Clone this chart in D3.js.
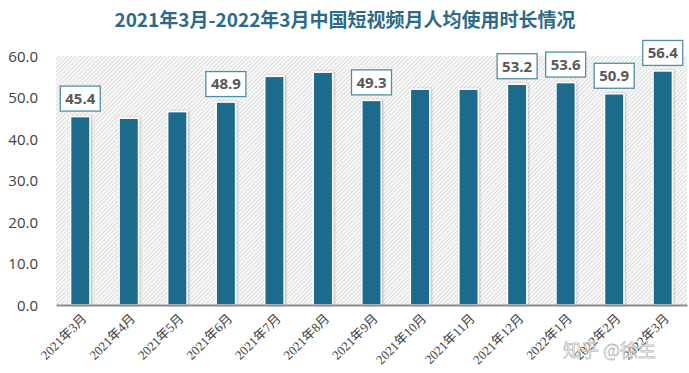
<!DOCTYPE html>
<html lang="zh">
<head>
<meta charset="UTF-8">
<title>短视频月人均使用时长</title>
<style>
    body { margin: 0; background: #fff; }
    .title { font-family: "Noto Sans CJK SC", sans-serif; font-weight: bold; fill: #2c6a88; }
    .ytick text { font-family: "Open Sans", "Noto Sans", sans-serif; font-size: 15px; fill: #404040; }
    .xtick text { font-family: "Liberation Serif", "Noto Sans CJK SC", serif; font-size: 13px; fill: #404040; }
    .lbl text { font-family: "Open Sans", sans-serif; font-weight: bold; font-size: 15px; fill: #595959; }
</style>
</head>
<body>
<script src="https://d3js.org/d3.v7.min.js"></script>
<script>
// data
const months = ["2021年3月", "2021年4月", "2021年5月", "2021年6月", "2021年7月", "2021年8月", "2021年9月",
    "2021年10月", "2021年11月", "2021年12月", "2022年1月", "2022年2月", "2022年3月"];
const hours = [45.4, 45.0, 46.6, 48.9, 55.1, 56.1, 49.3, 52.0, 52.0, 53.2, 53.6, 50.9, 56.4];
const labelled = [true, false, false, true, false, false, true, false, false, true, true, true, true];
const yTicks = [0, 10, 20, 30, 40, 50, 60];

const width = 689, height = 373;
const plot = { left: 56, right: 687, top: 56, bottom: 305 };

const svg = d3.select("body").append("svg")
    .attr("width", width)
    .attr("height", height);

// hatched plot background
const defs = svg.append("defs");
const pat = defs.append("pattern")
    .attr("id", "hatch")
    .attr("patternUnits", "userSpaceOnUse")
    .attr("width", 3).attr("height", 3)
    .attr("patternTransform", "rotate(45)");
pat.append("rect").attr("width", 3).attr("height", 3).attr("fill", "#f8f8f8");
pat.append("line").attr("x1", 0).attr("y1", 0).attr("x2", 0).attr("y2", 3)
    .attr("stroke", "#cdcdcd").attr("stroke-width", 1.2);

const shadow = defs.append("filter").attr("id", "shadow")
    .attr("x", "-30%").attr("y", "-10%").attr("width", "160%").attr("height", "120%");
shadow.append("feDropShadow").attr("dx", 1).attr("dy", 0).attr("stdDeviation", 1.2)
    .attr("flood-color", "#000").attr("flood-opacity", 0.25);

svg.append("rect")
    .attr("x", plot.left).attr("y", plot.top)
    .attr("width", plot.right - plot.left).attr("height", plot.bottom - plot.top)
    .attr("fill", "url(#hatch)");

const x = d3.scaleBand()
    .domain(months)
    .range([plot.left, plot.right])
    .paddingInner(0.6)
    .paddingOuter(0.3);

const y = d3.scaleLinear()
    .domain([0, 60])
    .range([plot.bottom, plot.top]);

// title
svg.append("text")
    .attr("class", "title")
    .attr("x", 345).attr("y", 27)
    .attr("text-anchor", "middle")
    .attr("font-size", 19)
    .text("2021年3月-2022年3月中国短视频月人均使用时长情况");

// y axis
const yAxis = svg.append("g")
    .attr("class", "ytick")
    .attr("transform", `translate(${plot.left},0)`)
    .call(d3.axisLeft(y).tickValues(yTicks).tickFormat(d3.format(".1f")).tickSize(0).tickPadding(18));
yAxis.select(".domain").remove();
yAxis.selectAll("text").attr("dy", "0.35em");

// bars
svg.append("g")
    .selectAll("rect")
    .data(hours)
    .join("rect")
    .attr("x", (d, i) => x(months[i]))
    .attr("y", d => y(d))
    .attr("width", x.bandwidth())
    .attr("height", d => y(0) - y(d))
    .attr("fill", "#1d6a8c")
    .attr("stroke", "#ffffff")
    .attr("stroke-width", 1.5)
    .attr("filter", "url(#shadow)");

// x axis
const xAxis = svg.append("g")
    .attr("class", "xtick")
    .attr("transform", `translate(0,${plot.bottom})`)
    .call(d3.axisBottom(x).tickSize(0).tickPadding(0));
xAxis.select(".domain")
    .attr("stroke", "#8c8c8c").attr("stroke-width", 2);
xAxis.selectAll("text")
    .attr("text-anchor", "end")
    .attr("y", 0)
    .attr("dy", "0.35em")
    .attr("transform", "translate(4,11) rotate(-45)");

// value labels
const lbl = svg.append("g").attr("class", "lbl")
    .selectAll("g")
    .data(hours.map((v, i) => ({ v, m: months[i], show: labelled[i] })).filter(d => d.show))
    .join("g")
    .attr("transform", d => `translate(${x(d.m) + x.bandwidth() / 2},${y(d.v) - 18})`);
lbl.append("rect")
    .attr("x", -20).attr("y", -12.5)
    .attr("width", 40).attr("height", 25)
    .attr("fill", "#fff")
    .attr("stroke", "#4f8ea8")
    .attr("stroke-width", 1.3);
lbl.append("text")
    .attr("text-anchor", "middle")
    .attr("dy", "0.36em")
    .text(d => d.v.toFixed(1));

// watermark
svg.append("text")
    .attr("x", 563).attr("y", 357)
    .attr("font-family", "Noto Sans CJK SC, sans-serif")
    .attr("font-size", 18)
    .attr("fill", "#ffffff")
    .attr("stroke", "#b0b0b0")
    .attr("stroke-width", 0.8)
    .attr("opacity", 0.8)
    .text("知乎 @徐生");
</script>
</body>
</html>
